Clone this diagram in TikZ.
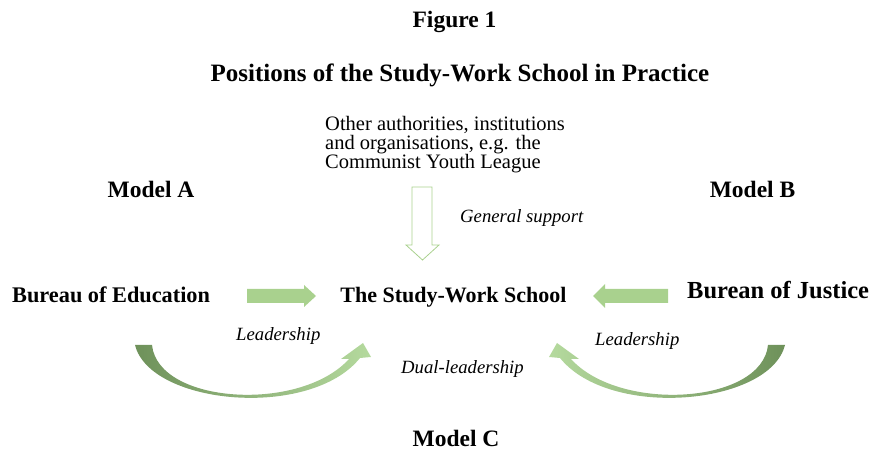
\documentclass[tikz,border=0pt]{standalone}
\usepackage{fontspec}
\setmainfont{Liberation Serif}
\usepackage{tikz}
\definecolor{arrowgreen}{HTML}{A9D18E}
\definecolor{darkgreen}{HTML}{6E915A}
\definecolor{lightgreen}{HTML}{B5DA9E}
\begin{document}
\begin{tikzpicture}[x=1pt,y=-1pt]
\tikzstyle{heading}=[inner sep=0,anchor=base,font=\fontsize{23.5}{23.5}\selectfont\bfseries]
\tikzstyle{actor}=[inner sep=0,anchor=base west,font=\bfseries]
\tikzstyle{relation}=[inner sep=0,anchor=base west,font=\fontsize{18.7}{18.7}\selectfont\itshape]
\useasboundingbox (0,0) rectangle (871,454);
\node [heading] (figtitle) at (454.5,27.7) {Figure 1};
\node [heading,font=\fontsize{25}{25}\selectfont\bfseries] (subtitle) at (460,82) {Positions of the Study-Work School in Practice};
\node [inner sep=0,anchor=base west,align=left,font=\fontsize{20.5}{19}\selectfont] (others) at (325,169)
  {Other authorities, institutions\\and organisations, e.g. the\\Communist Youth League};
\node [heading] (modelA) at (151,198) {Model A};
\node [heading] (modelB) at (752.5,198) {Model B};
\node [heading] (modelC) at (456,447) {Model C};
\node [actor,font=\fontsize{22.3}{22.3}\selectfont\bfseries] (edu) at (12,303) {Bureau of Education};
\node [heading,font=\fontsize{22}{22}\selectfont\bfseries] (school) at (453.5,303) {The Study-Work School};
\node [actor,font=\fontsize{24.5}{24.5}\selectfont\bfseries] (justice) at (687,299) {Burean of Justice};
\node [relation] (support) at (460,223) {General support};
\node [relation] (leadA) at (236,341) {Leadership};
\node [relation] (leadB) at (595,346) {Leadership};
\node [relation] (dual) at (401,374) {Dual-leadership};
\draw [arrowgreen,line width=0.8pt,line join=miter]
    (412,187) -- (432,187) -- (432,245) -- (439,245) -- (422.5,260)
    -- (406,245) -- (412,245) -- cycle;
\fill [arrowgreen]
    (247,289) -- (304,289) -- (304,285) -- (316,296) -- (304,307) -- (304,303) -- (247,303) -- cycle;
\fill [arrowgreen]
    (668,289) -- (605,289) -- (605,284) -- (593,296) -- (605,308) -- (605,303) -- (668,303) -- cycle;
\shade [left color=darkgreen,right color=lightgreen]
    (135,345) .. controls (150,405) and (310,420) .. (360,358)
    -- (371,357) -- (363,343) -- (341,359) -- (349,359)
    .. controls (300,413) and (158,404) .. (152,345) -- cycle;
\shade [left color=lightgreen,right color=darkgreen]
    (785,345) .. controls (770,405) and (610,420) .. (560,358)
    -- (549,357) -- (557,343) -- (579,359) -- (571,359)
    .. controls (620,413) and (762,404) .. (768,345) -- cycle;
\end{tikzpicture}
\end{document}
